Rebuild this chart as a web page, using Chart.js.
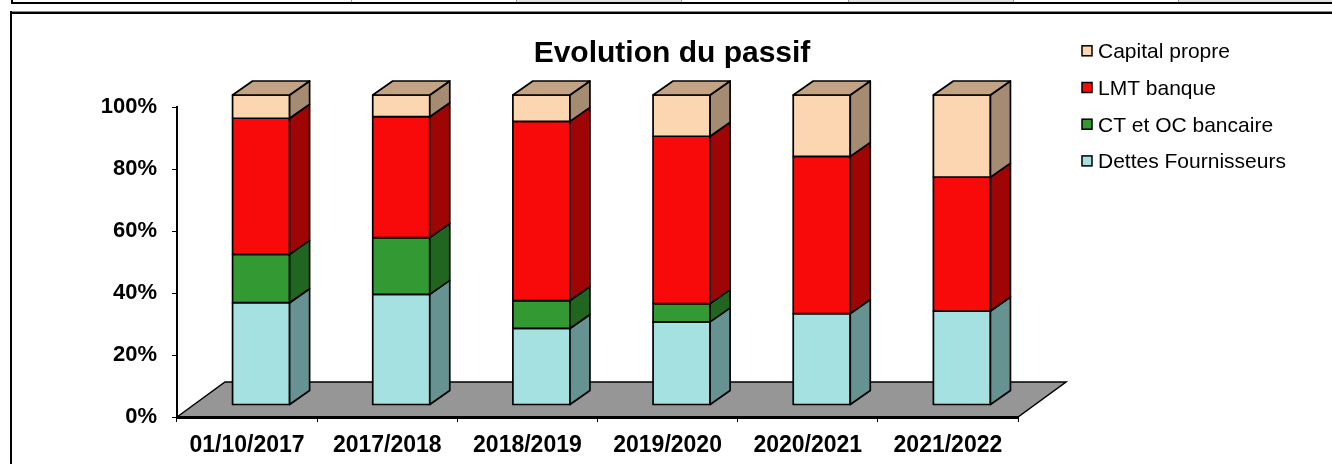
<!DOCTYPE html>
<html>
<head>
<meta charset="utf-8">
<title>Evolution du passif</title>
<script src="https://cdn.jsdelivr.net/npm/chart.js@4.4.0/dist/chart.umd.min.js"></script>
<style>
  html, body { margin: 0; padding: 0; background: #fff; }
  #wrap { position: relative; width: 1332px; height: 464px; overflow: hidden; }
  .cell { position: absolute; top: 0; height: 2px; background: #e4e4e4; }
  .sep { position: absolute; top: 0; width: 1px; height: 3px; background: #9a9a9a; }
  #sheetLine { position: absolute; left: 11px; right: 0; top: 2px; height: 2px; background: #000; }
  #sheetLeft { position: absolute; left: 11px; top: 0; width: 2px; height: 4px; background: #000; }
  #frameGrey { position: absolute; left: 10px; right: 0; top: 11px; height: 1px; background: #8c8c8c; }
  #frameTop { position: absolute; left: 10px; right: 0; top: 12px; height: 2px; background: #000; }
  #frameLeft { position: absolute; left: 10px; top: 11px; width: 2px; bottom: 0; background: #000; }
  canvas { position: absolute; left: 0; top: 0; }
</style>
</head>
<body>
<div id="wrap">
  <div class="cell" style="left:517px;width:164px"></div>
  <div class="cell" style="left:849px;width:164px"></div>
  <div class="cell" style="left:1179px;width:153px"></div>
  <div class="sep" style="left:351px"></div>
  <div class="sep" style="left:516px"></div>
  <div class="sep" style="left:681px"></div>
  <div class="sep" style="left:848px"></div>
  <div class="sep" style="left:1013px"></div>
  <div class="sep" style="left:1178px"></div>
  <div id="sheetLine"></div>
  <div id="sheetLeft"></div>
  <div id="frameGrey"></div>
  <div id="frameTop"></div>
  <div id="frameLeft"></div>
  <canvas id="chart" width="1332" height="464"></canvas>
</div>
<script>
// data (percent of total passif)
const categories = ['01/10/2017', '2017/2018', '2018/2019', '2019/2020', '2020/2021', '2021/2022'];
const dettesFournisseurs = [33.0, 35.7, 24.7, 26.8, 29.5, 30.3];
const ctOcBancaire = [15.6, 18.3, 9.0, 5.9, 0, 0];
const lmtBanque = [43.9, 39.0, 57.8, 54.0, 50.7, 43.2];
const capitalPropre = [7.5, 7.0, 8.5, 13.3, 19.8, 26.5];
const yTicks = [0, 20, 40, 60, 80, 100];

const FONT = "'Liberation Sans', Arial, Helvetica, sans-serif";
Chart.defaults.font.family = FONT;
Chart.defaults.color = '#000';

// 3d look of the excel chart
const SHIFT_X = 14, SHIFT_Y = 12;   // front face offset inside the floor
const DEPTH_X = 20, DEPTH_Y = 14;   // depth of one column
const FLOOR_X = 48, FLOOR_Y = 35;   // depth of the floor

function poly(ctx, pts, fill) {
  ctx.beginPath();
  ctx.moveTo(pts[0][0], pts[0][1]);
  for (let i = 1; i < pts.length; i++) ctx.lineTo(pts[i][0], pts[i][1]);
  ctx.closePath();
  ctx.fillStyle = fill;
  ctx.fill();
  ctx.stroke();
}

const columns3d = {
  id: 'columns3d',
  beforeDraw(chart) {
    const ctx = chart.ctx;
    const a = chart.chartArea;
    ctx.save();
    ctx.strokeStyle = '#000';
    ctx.lineWidth = 1.5;
    poly(ctx, [
      [a.left, a.bottom],
      [a.left + FLOOR_X, a.bottom - FLOOR_Y],
      [a.right + FLOOR_X, a.bottom - FLOOR_Y],
      [a.right, a.bottom]
    ], '#969696');
    ctx.restore();
  },
  beforeDatasetDraw() {
    return false;
  },
  afterDatasetsDraw(chart) {
    const ctx = chart.ctx;
    const sets = chart.data.datasets;
    ctx.save();
    ctx.strokeStyle = '#000';
    ctx.lineWidth = 1.7;
    ctx.lineJoin = 'round';
    for (let j = 0; j < categories.length; j++) {
      let topBar = null, topSet = null;
      for (let i = 0; i < sets.length; i++) {
        const bar = chart.getDatasetMeta(i).data[j];
        if (!bar || Math.abs(bar.base - bar.y) < 0.5) continue;
        const l = bar.x - bar.width / 2 + SHIFT_X;
        const r = bar.x + bar.width / 2 + SHIFT_X;
        const t = bar.y - SHIFT_Y;
        const b = bar.base - SHIFT_Y;
        poly(ctx, [[l, t], [r, t], [r, b], [l, b]], sets[i].backgroundColor);
        poly(ctx, [[r, t], [r + DEPTH_X, t - DEPTH_Y], [r + DEPTH_X, b - DEPTH_Y], [r, b]], sets[i].sideColor);
        topBar = { l, r, t };
        topSet = sets[i];
      }
      if (topBar) {
        poly(ctx, [
          [topBar.l, topBar.t],
          [topBar.l + DEPTH_X, topBar.t - DEPTH_Y],
          [topBar.r + DEPTH_X, topBar.t - DEPTH_Y],
          [topBar.r, topBar.t]
        ], topSet.topColor);
      }
    }
    ctx.restore();
  },
  afterDraw(chart) {
    const ctx = chart.ctx;
    ctx.save();
    // title
    ctx.fillStyle = '#000';
    ctx.font = 'bold 30px ' + FONT;
    ctx.textAlign = 'center';
    ctx.textBaseline = 'alphabetic';
    ctx.fillText('Evolution du passif', 672, 61.5);
    // legend, top series first like excel
    const rows = chart.data.datasets.slice().reverse();
    ctx.font = '21px ' + FONT;
    ctx.textAlign = 'left';
    ctx.lineWidth = 1.5;
    ctx.strokeStyle = '#000';
    rows.forEach((ds, k) => {
      const cy = 50.8 + k * 36.7;
      ctx.fillStyle = ds.backgroundColor;
      ctx.fillRect(1082, cy - 5, 10, 10);
      ctx.strokeRect(1082, cy - 5, 10, 10);
      ctx.fillStyle = '#000';
      ctx.fillText(ds.label, 1098, cy + 7.5);
    });
    ctx.restore();
  }
};

const ctx = document.getElementById('chart').getContext('2d');
new Chart(ctx, {
  type: 'bar',
  data: {
    labels: categories,
    datasets: [
      { label: 'Dettes Fournisseurs', data: dettesFournisseurs, backgroundColor: '#a6e1e2', sideColor: '#679292', topColor: '#86b5b6' },
      { label: 'CT et OC bancaire', data: ctOcBancaire, backgroundColor: '#339933', sideColor: '#206620', topColor: '#2a7f2a' },
      { label: 'LMT banque', data: lmtBanque, backgroundColor: '#f80a0a', sideColor: '#a00505', topColor: '#c00707' },
      { label: 'Capital propre', data: capitalPropre, backgroundColor: '#fbd6b1', sideColor: '#a48b72', topColor: '#c2a384' }
    ]
  },
  options: {
    responsive: false,
    animation: false,
    events: [],
    layout: { padding: { left: 97, right: 314, top: 107, bottom: 7 } },
    datasets: {
      bar: { categoryPercentage: 1, barPercentage: 0.407 }
    },
    plugins: {
      legend: { display: false },
      title: { display: false },
      tooltip: { enabled: false }
    },
    scales: {
      x: {
        stacked: true,
        afterFit(scale) { scale.height = 40; },
        grid: { drawOnChartArea: false, drawTicks: true, tickLength: 5, color: '#000', lineWidth: 1 },
        border: { display: true, color: '#000', width: 3 },
        ticks: { font: { size: 23, weight: 'bold' }, padding: 10, maxRotation: 0 }
      },
      y: {
        stacked: true,
        min: 0,
        max: 100,
        afterFit(scale) { scale.width = 80; },
        afterBuildTicks(scale) { scale.ticks = yTicks.map(v => ({ value: v })); },
        grid: { drawOnChartArea: false, drawTicks: true, tickLength: 5, color: '#000', lineWidth: 1 },
        border: { display: true, color: '#000', width: 2 },
        ticks: { font: { size: 22, weight: 'bold' }, padding: 15, callback: v => v + '%' }
      }
    }
  },
  plugins: [columns3d]
});
</script>
</body>
</html>
